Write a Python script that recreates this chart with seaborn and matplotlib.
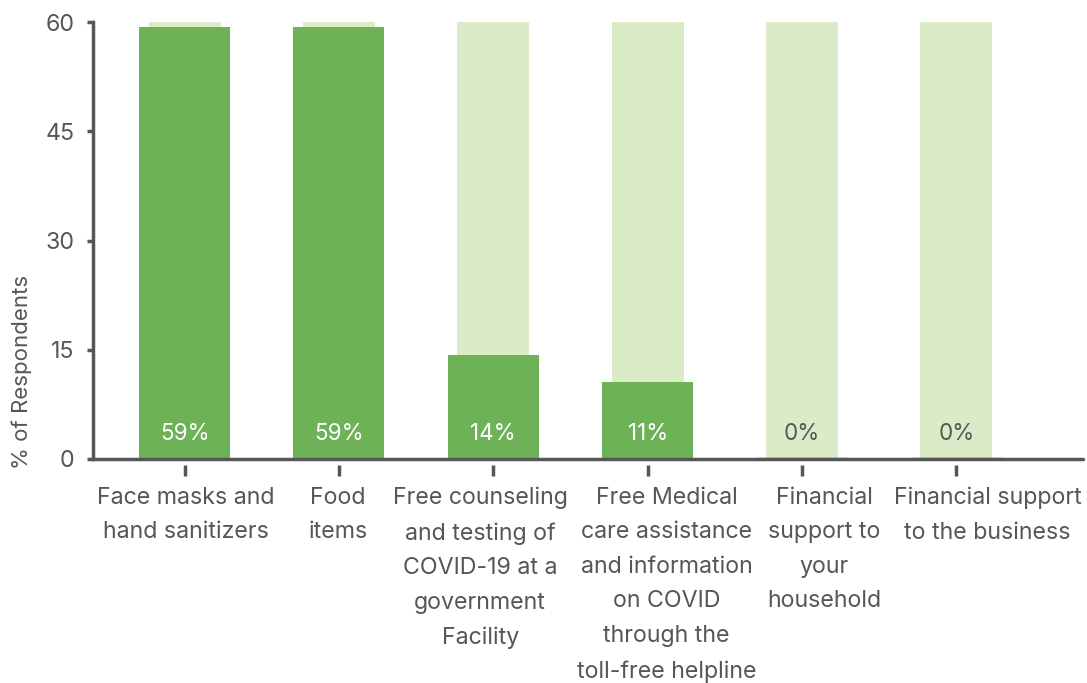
import matplotlib
matplotlib.use("Agg")
import matplotlib.pyplot as plt
import matplotlib.transforms as mtransforms
import seaborn as sns
import pandas as pd

categories = [
    "Face masks and\nhand sanitizers",
    "Food\nitems",
    "Free counseling\nand testing of\nCOVID-19 at a\ngovernment\nFacility",
    "Free Medical\ncare assistance\nand information\non COVID\nthrough the\ntoll-free helpline",
    "Financial\nsupport to\nyour\nhousehold",
    "Financial support\nto the business",
]
values = [59.3, 59.3, 14.3, 10.6, 0, 0]
background = [60, 60, 60, 60, 60, 60]
value_labels = ["59%", "59%", "14%", "11%", "0%", "0%"]
y_ticks = [0, 15, 30, 45, 60]
# horizontal shift of each category label (pixels), as laid out in the reference
label_shift_px = [1, -1, -13, 19, 22, 31]

GREEN = "#6db256"
LIGHT = "#dbebc8"
GRAY = "#555659"
FS = 16.7

sns.set_theme(style="white")
plt.rcParams["font.family"] = ["Inter", "DejaVu Sans"]

df = pd.DataFrame({"cat": categories, "val": values, "bg": background})

fig = plt.figure(figsize=(10.87, 6.83), dpi=100)
ax = fig.add_axes([0.0856, 0.328, 0.9107, 0.6397])

sns.barplot(data=df, x="cat", y="bg", color=LIGHT, width=0.467, saturation=1, ax=ax, zorder=1)
n_bg = len(ax.patches)
sns.barplot(data=df, x="cat", y="val", color=GREEN, width=0.59, saturation=1, ax=ax, zorder=2)
for p in ax.patches[n_bg:]:
    if p.get_height() == 0:
        p.set_edgecolor(GREEN)
        p.set_linewidth(2.5)
    else:
        p.set_linewidth(0)
for p in ax.patches[:n_bg]:
    p.set_linewidth(0)

for i, (v, lab) in enumerate(zip(values, value_labels)):
    ax.text(i, 3.4, lab, ha="center", va="center", fontsize=FS - 0.5,
            color="white" if v > 0 else GRAY, zorder=3)

ax.set_xlim(-0.593, 5.82)
ax.set_ylim(0, 60)

for s in ["top", "right"]:
    ax.spines[s].set_visible(False)
ax.spines["left"].set_color(GRAY)
ax.spines["left"].set_linewidth(2.5)
ax.spines["bottom"].set_position(("outward", 4.5))
ax.spines["bottom"].set_visible(False)
ax.axhline(0, color=GRAY, linewidth=2.5, zorder=4, clip_on=False)

ax.tick_params(axis="y", direction="out", length=4.5, width=2.5, color=GRAY, pad=9,
               left=True, labelsize=FS, labelcolor=GRAY)
ax.tick_params(axis="x", direction="out", length=8, width=2.5, color=GRAY, pad=7.5,
               bottom=True, labelsize=FS, labelcolor=GRAY)

ax.set_yticks(y_ticks)
ax.set_yticklabels([str(t) for t in y_ticks])
ax.set_xticks(range(len(categories)))
ax.set_xticklabels(categories)
for t, dx in zip(ax.get_xticklabels(), label_shift_px):
    t.set_linespacing(1.74)
    t.set_fontsize(FS)
    t.set_verticalalignment("top")
    t.set_transform(t.get_transform() +
                    mtransforms.ScaledTranslation(dx / 100, 0, fig.dpi_scale_trans))

ax.set_xlabel("")
ax.set_ylabel("% of Respondents", fontsize=FS - 0.7, color=GRAY)
ax.yaxis.set_label_coords(-0.062, 0.2)

fig.savefig("out.png", dpi=100)
